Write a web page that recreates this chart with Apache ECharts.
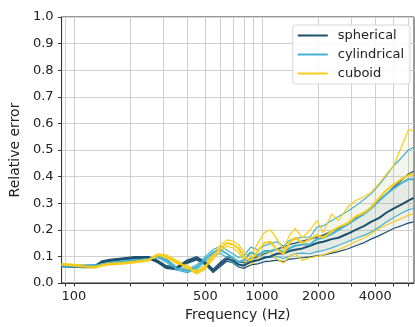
<!DOCTYPE html>
<html>
<head>
<meta charset="utf-8">
<script src="https://cdn.jsdelivr.net/npm/echarts@6/dist/echarts.min.js"></script>
<style>
  html, body { margin: 0; padding: 0; background: #fff; }
  #chart { width: 415px; height: 327px; }
</style>
</head>
<body>
<div id="chart"></div>
<script>
// frequency grid (Hz)
var freqs = [86,100,115,130,140,155,180,210,250,280,310,350,400,450,500,550,600,650,700,750,800,870,950,1030,1110,1200,1300,1400,1500,1640,1800,1960,2120,2350,2550,2850,3150,3500,3800,4200,4600,5000,5500,6000,6400]

var sphMean = [0.065,0.063,0.062,0.063,0.078,0.085,0.090,0.095,0.095,0.080,0.060,0.055,0.080,0.093,0.075,0.045,0.070,0.090,0.085,0.070,0.065,0.080,0.085,0.095,0.100,0.110,0.112,0.120,0.125,0.130,0.140,0.150,0.155,0.165,0.170,0.185,0.200,0.215,0.230,0.245,0.265,0.280,0.295,0.310,0.320]
var sphHi = [0.069,0.067,0.066,0.067,0.082,0.089,0.094,0.099,0.099,0.085,0.065,0.060,0.086,0.099,0.081,0.052,0.078,0.098,0.094,0.080,0.076,0.092,0.098,0.110,0.118,0.128,0.135,0.145,0.150,0.158,0.165,0.172,0.180,0.195,0.205,0.225,0.245,0.265,0.285,0.310,0.335,0.360,0.385,0.410,0.420]
var sphLo = [0.061,0.059,0.058,0.059,0.074,0.081,0.086,0.091,0.091,0.075,0.055,0.050,0.074,0.087,0.069,0.039,0.062,0.082,0.076,0.060,0.055,0.068,0.072,0.080,0.082,0.086,0.080,0.090,0.092,0.095,0.098,0.102,0.105,0.112,0.118,0.128,0.140,0.152,0.165,0.178,0.192,0.205,0.215,0.225,0.230]

var cylMean = [0.065,0.064,0.063,0.065,0.070,0.075,0.080,0.085,0.090,0.100,0.085,0.055,0.045,0.060,0.090,0.115,0.125,0.110,0.095,0.080,0.085,0.115,0.105,0.120,0.120,0.128,0.115,0.130,0.140,0.145,0.145,0.165,0.170,0.185,0.200,0.220,0.240,0.260,0.280,0.310,0.335,0.355,0.375,0.390,0.390]
var cylHi = [0.069,0.068,0.067,0.069,0.074,0.079,0.084,0.089,0.094,0.105,0.091,0.061,0.051,0.068,0.099,0.126,0.138,0.124,0.110,0.096,0.102,0.135,0.125,0.140,0.148,0.155,0.138,0.160,0.168,0.172,0.172,0.210,0.215,0.235,0.250,0.270,0.290,0.315,0.335,0.370,0.405,0.440,0.470,0.500,0.510]
var cylLo = [0.061,0.060,0.059,0.061,0.066,0.071,0.076,0.081,0.086,0.095,0.079,0.049,0.039,0.052,0.081,0.104,0.112,0.096,0.080,0.064,0.068,0.095,0.085,0.100,0.095,0.100,0.092,0.100,0.110,0.112,0.110,0.118,0.122,0.132,0.142,0.155,0.168,0.180,0.192,0.210,0.230,0.245,0.262,0.275,0.280]

var cubMean = [0.070,0.066,0.062,0.060,0.067,0.072,0.075,0.080,0.087,0.105,0.100,0.080,0.060,0.040,0.060,0.100,0.130,0.150,0.145,0.130,0.100,0.085,0.120,0.150,0.155,0.125,0.110,0.150,0.170,0.150,0.165,0.180,0.170,0.195,0.210,0.225,0.250,0.265,0.285,0.320,0.350,0.370,0.390,0.405,0.410]
var cubHi = [0.074,0.070,0.066,0.064,0.071,0.076,0.079,0.084,0.091,0.110,0.106,0.086,0.066,0.046,0.068,0.110,0.142,0.162,0.158,0.145,0.115,0.100,0.150,0.190,0.200,0.165,0.125,0.180,0.205,0.170,0.200,0.235,0.190,0.260,0.235,0.285,0.310,0.325,0.340,0.375,0.410,0.440,0.510,0.575,0.575]
var cubLo = [0.066,0.062,0.058,0.056,0.063,0.068,0.071,0.076,0.083,0.100,0.094,0.074,0.054,0.034,0.052,0.090,0.118,0.138,0.132,0.115,0.085,0.070,0.095,0.120,0.115,0.090,0.075,0.100,0.110,0.085,0.095,0.100,0.105,0.118,0.125,0.140,0.155,0.170,0.185,0.205,0.218,0.230,0.242,0.255,0.260]

var xTickValues = [90,100,200,300,400,500,600,700,800,900,1000,2000,3000,4000,5000,6000]
var xLabelValues = [100,500,1000,2000,4000]

var shapes = [
  { name: 'spherical', color: '#1d4f6e', mean: sphMean, hi: sphHi, lo: sphLo },
  { name: 'cylindrical', color: '#45b1cf', mean: cylMean, hi: cylHi, lo: cylLo },
  { name: 'cuboid', color: '#f8cc1b', mean: cubMean, hi: cubHi, lo: cubLo }
]

function pairs(vals) {
  return freqs.map(function(f, i) { return [f, vals[i]] })
}

// shaded band between lo and hi, drawn as one polygon through the axis scales
function bandSeries(s) {
  return {
    name: s.name + ' band',
    type: 'custom',
    silent: true,
    z: 1,
    data: freqs.map(function(f, i) { return [f, s.lo[i], s.hi[i]] }),
    encode: { x: 0, y: [1, 2] },
    renderItem: function(params, api) {
      if (params.dataIndex !== 0) return
      var pts = []
      for (var i = 0; i < freqs.length; i++) pts.push(api.coord([freqs[i], s.hi[i]]))
      for (var j = freqs.length - 1; j >= 0; j--) pts.push(api.coord([freqs[j], s.lo[j]]))
      return {
        type: 'polygon',
        shape: { points: pts },
        style: { fill: s.color, opacity: 0.07 }
      }
    }
  }
}

var series = []
shapes.forEach(function(s) { series.push(bandSeries(s)) })
shapes.forEach(function(s) {
  series.push({
    name: s.name + ' hi', type: 'line', data: pairs(s.hi), symbol: 'none', z: 2,
    lineStyle: { color: s.color, width: 1.2 }
  })
  series.push({
    name: s.name + ' lo', type: 'line', data: pairs(s.lo), symbol: 'none', z: 2,
    lineStyle: { color: s.color, width: 1.2 }
  })
  series.push({
    name: s.name, type: 'line', data: pairs(s.mean), symbol: 'none', z: 3,
    color: s.color,
    lineStyle: { color: s.color, width: 2 }
  })
})

var chart = echarts.init(document.getElementById('chart'))
chart.setOption({
  animation: false,
  textStyle: { fontFamily: 'DejaVu Sans' },
  grid: {
    left: 61, right: 1, top: 17, bottom: 44,
    show: true, borderColor: '#333', borderWidth: 1
  },
  legend: {
    data: ['spherical', 'cylindrical', 'cuboid'],
    orient: 'vertical',
    right: 5,
    top: 25,
    padding: [4, 6, 4, 5],
    itemGap: 6,
    itemWidth: 30,
    itemHeight: 2,
    icon: 'rect',
    backgroundColor: 'rgba(255,255,255,0.85)',
    borderColor: '#d6d6d6',
    borderWidth: 1,
    borderRadius: 3,
    textStyle: { fontSize: 13, color: '#222', fontFamily: 'DejaVu Sans', padding: [0, 0, 0, 5] }
  },
  xAxis: {
    type: 'log',
    min: 86,
    max: 6430,
    name: 'Frequency (Hz)',
    nameLocation: 'middle',
    nameGap: 25,
    nameTextStyle: { fontSize: 14, color: '#222' },
    axisLine: { lineStyle: { color: '#333', width: 1 } },
    axisTick: { show: true, length: 3.5, customValues: xTickValues, lineStyle: { color: '#333' } },
    axisLabel: {
      customValues: xLabelValues, fontSize: 13, color: '#222', margin: 7,
      formatter: function(v) { return String(Math.round(v)) }
    },
    splitLine: { show: true, lineStyle: { color: '#cfcfcf', width: 1 } },
    minorTick: { show: false },
    minorSplitLine: { show: false }
  },
  yAxis: {
    type: 'value',
    min: 0,
    max: 1,
    interval: 0.1,
    name: 'Relative error',
    nameLocation: 'middle',
    nameGap: 39,
    nameTextStyle: { fontSize: 14, color: '#222' },
    axisLine: { show: true, lineStyle: { color: '#333', width: 1 } },
    axisTick: { show: true, length: 3.5, lineStyle: { color: '#333' } },
    axisLabel: {
      fontSize: 13, color: '#222', margin: 8,
      formatter: function(v) { return v.toFixed(1) }
    },
    splitLine: { show: true, lineStyle: { color: '#cfcfcf', width: 1 } }
  },
  series: series
})
</script>
</body>
</html>
